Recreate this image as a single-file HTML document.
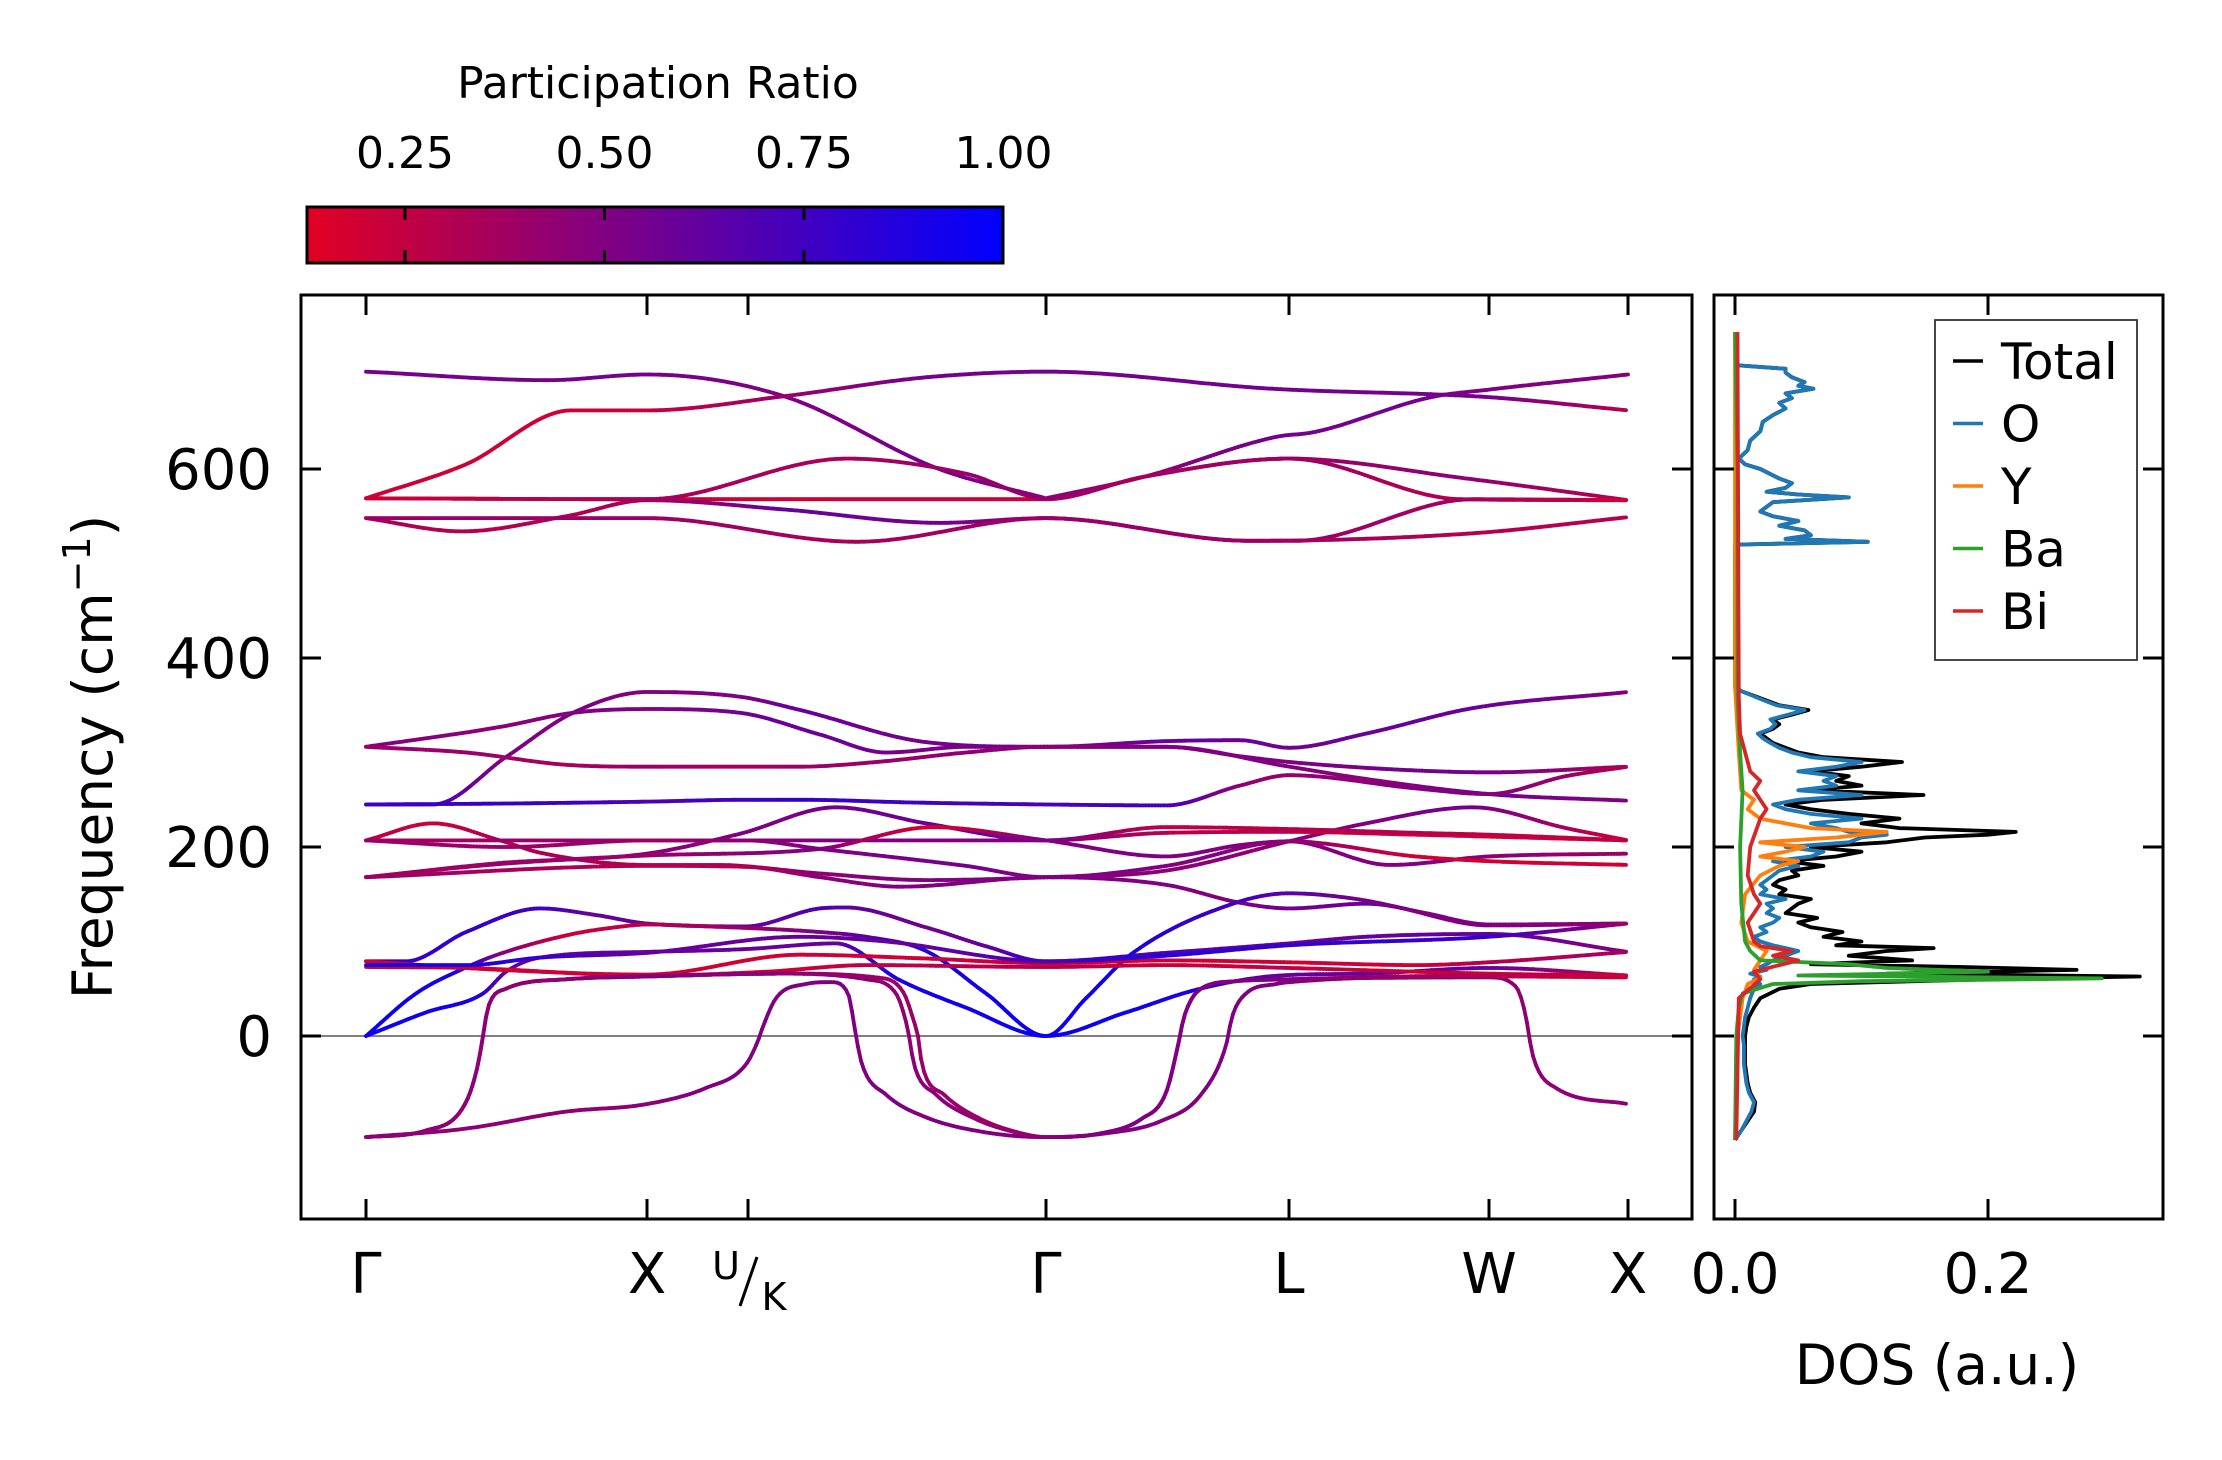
<!DOCTYPE html>
<html><head><meta charset="utf-8"><title>Phonon bands and DOS</title>
<style>
html,body{margin:0;padding:0;background:#fff;}
svg text{font-family:"DejaVu Sans","Liberation Sans",sans-serif;fill:#000;}
</style></head>
<body>
<svg id="fig" xmlns="http://www.w3.org/2000/svg" width="2222" height="1455" viewBox="0 0 2222 1455">
<rect x="0" y="0" width="2222" height="1455" fill="#fff"/>
<defs>
<linearGradient id="cbgrad" x1="0" y1="0" x2="1" y2="0">
<stop offset="0" stop-color="rgb(225,0,35)"/>
<stop offset="1" stop-color="rgb(0,0,255)"/>
</linearGradient>
<clipPath id="mainclip"><rect x="301" y="295" width="1391" height="924"/></clipPath>
<clipPath id="dosclip"><rect x="1714" y="295" width="449" height="924"/></clipPath>
</defs>
<g id="colorbar">
<rect x="307" y="207" width="696" height="56" fill="url(#cbgrad)" stroke="#000" stroke-width="3"/>
</g>
<text x="658" y="98" font-size="44" text-anchor="middle">Participation Ratio</text>
<g id="main"></g>
<g id="dos"></g>
<text transform="translate(112,757) rotate(-90)" font-size="55" text-anchor="middle">Frequency (cm<tspan font-size="38" dy="-22">−1</tspan><tspan dy="22">)</tspan></text>
<text x="1937" y="1384" font-size="55" text-anchor="middle">DOS (a.u.)</text>
</svg>
<script>
// ---------- data ----------
const kTickPos = [0, 281, 382, 680, 923, 1123, 1262];
const kTickLabels = ["Γ", "X", "U/K", "Γ", "L", "W", "X"];
const freqTicks = [0, 200, 400, 600];
const cbTicks = [0.25, 0.5, 0.75, 1.0];
const cbTickLabels = ["0.25", "0.50", "0.75", "1.00"];
const dosTicks = [0.0, 0.2];
const dosTickLabels = ["0.0", "0.2"];

// bands: [k, frequency, participation ratio]
const bandTop1 = [[0,703,.55],[182,694,.55],[281,700,.55],[418,677,.5],[573,600,.55],[680,569,.45]];
const bandTop2 = [[0,569,.2],[100,605,.2],[205,662,.2],[281,662,.22],[418,677,.4],[560,697,.55],[680,703,.55],[905,685,.55],[1123,676,.55],[1262,662,.3]];
const bandTop3 = [[680,569,.45],[779,592,.45],[910,634,.55],[948,639,.55],[1065,676,.55],[1123,684,.5],[1262,700,.5]];
const bandTop4 = [[0,569,.15],[281,568,.2],[680,568,.2],[779,592,.35],[923,611,.4],[1100,590,.45],[1262,567,.3]];
const bandTop5 = [[0,569,.2],[281,568,.35],[481,611,.35],[600,595,.4],[680,569,.45],[779,592,.35],[923,611,.4],[1095,568,.3],[1262,567,.2]];
const bandTop6 = [[0,548,.35],[96,534,.3],[200,550,.3],[281,567,.35],[420,557,.6],[574,543,.55],[680,548,.45],[884,524,.4],[930,524,.4],[1107,568,.35],[1262,567,.2]];
const bandTop7 = [[0,548,.4],[281,548,.4],[491,523,.35],[680,548,.4],[884,524,.4],[1107,532,.3],[1262,549,.3]];
const bandMid1 = [[0,306,.5],[134,327,.45],[207,342,.5],[281,346,.5],[374,342,.55],[454,319,.6],[520,300,.55],[600,306,.5],[680,306,.5],[800,312,.6],[874,313,.6],[923,305,.55],[1000,320,.6],[1107,347,.6],[1262,364,.5]];
const bandMid2 = [[0,245,.65],[67,245,.7],[141,296,.5],[207,342,.5],[281,364,.5],[374,359,.5],[434,345,.6],[560,311,.55],[680,306,.55],[800,306,.55],[874,296,.55],[923,290,.5],[1030,282,.55],[1123,279,.55],[1262,285,.35]];
const bandMid3 = [[0,306,.4],[100,300,.4],[200,287,.35],[281,285,.4],[380,285,.35],[434,285,.4],[511,290,.4],[600,300,.45],[680,306,.45],[800,306,.5],[923,285,.5],[1000,272,.45],[1123,256,.55],[1262,249,.5]];
const bandMid4 = [[0,245,.75],[140,246,.8],[281,248,.7],[380,250,.75],[434,250,.8],[550,247,.75],[680,245,.7],[800,244,.75],[874,265,.45],[923,276,.4],[1050,262,.5],[1123,256,.5],[1200,275,.4],[1262,285,.3]];
const bandMid5 = [[0,207,.3],[67,225,.2],[134,207,.3],[174,194,.35],[281,181,.3],[350,181,.35],[454,172,.45],[560,165,.5],[680,168,.5],[800,175,.45],[923,206,.45],[1000,225,.5],[1107,242,.55],[1200,220,.35],[1262,207,.2]];
const bandMid6 = [[0,207,.35],[281,207,.45],[454,207,.5],[680,207,.5],[800,215,.3],[923,216,.25],[1050,213,.2],[1262,207,.2]];
const bandMid7 = [[0,168,.4],[134,183,.45],[281,193,.45],[374,214,.5],[470,242,.55],[560,225,.6],[680,207,.55],[800,221,.25],[923,219,.3],[1050,215,.3],[1123,213,.25],[1262,207,.25]];
const bandMid8 = [[0,168,.35],[134,182,.4],[281,191,.4],[454,198,.5],[567,221,.15],[680,207,.5],[800,190,.5],[874,202,.5],[923,206,.5],[1024,181,.5],[1123,190,.45],[1262,193,.4]];
const bandMid9 = [[0,207,.4],[140,200,.4],[281,207,.4],[380,207,.45],[454,198,.5],[600,180,.55],[680,168,.5],[800,180,.5],[923,206,.45],[1050,190,.2],[1123,185,.2],[1262,181,.2]];
const bandMid10 = [[0,168,.4],[281,180,.3],[380,179,.3],[454,168,.45],[534,158,.5],[680,168,.5],[800,160,.5],[874,141,.5],[923,135,.55],[1000,140,.6],[1123,117,.5],[1262,119,.45]];
const bandLow1 = [[0,79,.7],[40,79,.8],[100,110,.8],[174,135,.75],[230,128,.6],[281,119,.6],[380,116,.6],[454,135,.7],[480,136,.65],[560,115,.55],[620,95,.6],[680,79,.8],[800,88,.7],[923,98,.6],[1000,105,.6],[1123,108,.6],[1262,89,.5]];
const bandLow2 = [[0,0,.95],[50,45,.95],[101,73,.9],[134,87,.5],[207,108,.2],[257,116,.25],[281,118,.3],[341,116,.35],[454,110,.5],[500,105,.65],[560,90,.85],[620,45,.95],[680,0,.95],[720,40,.95],[767,88,.9],[867,140,.75],[923,151,.65],[990,145,.55],[1060,130,.5],[1123,118,.5],[1262,119,.45]];
const bandLow3 = [[0,0,.95],[60,25,.95],[117,45,.9],[140,68,.6],[174,83,.6],[281,89,.6],[380,92,.6],[470,98,.6],[534,59,.9],[600,30,.95],[680,0,.95],[760,25,.95],[834,50,.9],[914,64,.6],[1000,66,.6],[1123,72,.6],[1262,64,.3]];
const bandLow4 = [[0,73,.2],[100,72,.2],[281,64,.25],[400,68,.2],[500,75,.25],[680,73,.3],[800,75,.2],[923,72,.25],[1123,66,.2],[1262,64,.2]];
const bandLow5 = [[0,79,.2],[134,70,.2],[281,65,.2],[434,86,.2],[560,82,.2],[680,77,.25],[800,80,.2],[923,78,.2],[1050,75,.2],[1123,78,.3],[1262,89,.35]];
const bandLow6 = [[0,75,.9],[101,75,.9],[174,83,.8],[281,88,.6],[434,105,.6],[520,100,.6],[680,79,.7],[800,85,.85],[923,96,.8],[1123,105,.8],[1262,119,.4]];
const bandImag1 = [[0,-107,.45],[100,-98,.45],[200,-80,.45],[281,-72,.45],[340,-55,.5],[380,-30,.5],[392,-5,.5],[397,10,.5],[410,40,.5],[440,55,.5],[465,57,.5],[482,45,.5],[487,20,.5],[490,0,.5],[496,-30,.5],[520,-62,.5],[560,-86,.5],[620,-102,.5],[680,-107,.5],[735,-103,.5],[775,-88,.5],[800,-60,.5],[812,-10,.5],[818,20,.5],[835,50,.5],[870,58,.5],[923,60,.5],[1123,62,.5],[1150,52,.45],[1160,20,.45],[1163,0,.45],[1168,-25,.45],[1190,-55,.45],[1262,-72,.45]];
const bandImag2 = [[0,-107,.45],[60,-100,.45],[100,-70,.45],[112,-30,.45],[117,0,.45],[122,30,.45],[140,50,.45],[200,60,.45],[281,63,.5],[420,66,.5],[500,60,.45],[530,45,.45],[540,15,.45],[543,0,.45],[548,-30,.45],[570,-62,.45],[610,-88,.45],[650,-102,.45],[680,-107,.45],[740,-103,.5],[795,-90,.5],[835,-62,.5],[860,-10,.5],[866,20,.5],[880,45,.5],[910,55,.5],[923,57,.5],[1123,63,.3],[1262,62,.2]];
const bandImag3 = [[0,-107,.45],[60,-100,.45],[100,-70,.45],[112,-30,.45],[117,0,.45],[122,30,.45],[140,50,.45],[200,60,.45],[281,63,.5],[420,66,.45],[510,62,.4],[538,45,.4],[548,15,.4],[552,0,.4],[556,-30,.4],[578,-62,.4],[615,-88,.4],[652,-102,.4],[680,-107,.45],[735,-103,.5],[775,-88,.5],[800,-60,.5],[812,-10,.5],[818,20,.5],[835,50,.5],[870,58,.5],[923,60,.5],[1123,64,.3],[1262,64,.2]];
const bandList = [bandTop1,bandTop2,bandTop3,bandTop4,bandTop5,bandTop6,bandTop7,bandMid1,bandMid2,bandMid3,bandMid4,bandMid5,bandMid6,bandMid7,bandMid8,bandMid9,bandMid10,bandLow1,bandLow2,bandLow3,bandLow4,bandLow5,bandLow6,bandImag1,bandImag2,bandImag3];

// DOS data
const dosFreq = [-110,-100,-90,-80,-70,-60,-50,-40,-30,-20,-10,0,10,20,30,40,50,55,60,63,66,70,73,76,80,85,90,93,96,100,105,110,115,120,125,130,135,140,145,150,155,160,165,170,175,180,185,190,195,200,205,210,213,216,220,225,230,235,240,245,250,255,260,265,270,275,280,285,290,295,300,305,310,315,320,325,330,335,340,345,350,355,360,365,370,380,450,515,520,523,526,530,535,540,545,550,555,560,565,570,573,576,580,585,590,600,605,611,620,630,640,650,657,664,670,675,680,685,688,692,697,702,706,710];
const dosTotal = [0,.005,.01,.015,.016,.012,.01,.009,.008,.008,.008,.008,.009,.011,.015,.02,.035,.06,.2,.32,.12,.27,.18,.06,.14,.09,.12,.157,.08,.1,.07,.085,.06,.05,.065,.04,.045,.05,.06,.035,.04,.03,.035,.05,.045,.07,.04,.08,.1,.06,.12,.15,.2,.222,.13,.1,.13,.09,.06,.04,.07,.149,.06,.1,.08,.09,.06,.1,.132,.07,.05,.04,.03,.025,.02,.03,.035,.03,.045,.058,.035,.025,.015,.005,0,0,0,0,0,.105,.04,.06,.055,.035,.05,.03,.02,.025,.03,.09,.05,.025,.04,.045,.035,.02,.008,.003,.01,.012,.02,.022,.03,.04,.035,.045,.04,.062,.05,.055,.045,.04,.04,0];
const dosO = [0,.005,.009,.013,.015,.011,.009,.008,.007,.007,.007,.006,.007,.008,.01,.012,.015,.02,.015,.02,.012,.025,.02,.025,.03,.04,.05,.04,.03,.02,.015,.025,.02,.03,.035,.025,.03,.025,.04,.02,.025,.02,.025,.03,.035,.05,.03,.06,.07,.04,.09,.1,.12,.09,.08,.06,.1,.06,.04,.03,.05,.1,.05,.08,.07,.08,.05,.08,.1,.06,.045,.035,.028,.022,.018,.028,.032,.028,.042,.055,.033,.023,.014,.005,0,0,0,0,0,.105,.04,.06,.055,.035,.05,.03,.02,.025,.03,.09,.05,.025,.04,.045,.035,.02,.008,.003,.01,.012,.02,.022,.03,.04,.035,.045,.04,.062,.05,.055,.045,.04,.04,0];
const yFreq = [-110,0,20,40,55,62,70,80,90,100,120,150,170,180,185,190,195,200,205,210,213,216,220,225,230,240,250,260,300,370,745];
const yDos = [0,.002,.004,.006,.01,.02,.015,.02,.025,.01,.005,.008,.02,.035,.05,.02,.04,.055,.02,.08,.1,.12,.06,.04,.02,.01,.015,.005,.003,0,0];
const baFreq = [-110,0,30,45,55,58,61,64,68,72,76,80,90,100,140,200,260,300,360,600,745];
const baDos = [0,.001,.003,.006,.03,.1,.29,.05,.2,.12,.09,.02,.012,.008,.005,.004,.006,.004,.002,.002,0];
const biFreq = [-110,40,60,68,75,80,85,90,95,100,120,140,150,170,200,230,240,250,260,270,280,290,320,360,745];
const biDos = [.001,.003,.02,.015,.035,.05,.03,.045,.02,.015,.01,.02,.015,.01,.012,.02,.025,.02,.015,.02,.012,.01,.004,.003,.002];
const legendLabels = ["Total","O","Y","Ba","Bi"];
const legendColors = ["#000000","#1f77b4","#ff7f0e","#2ca02c","#d62728"];

// ---------- scales ----------
const NS = "http://www.w3.org/2000/svg";
const MAIN = {l:301, r:1692, t:295, b:1219};
const DOSB = {l:1714, r:2163, t:295, b:1219};
function xK(k){ return 366 + (k/1262)*(1628-366); }
function yF(f){ return 1036 - f*0.945; }
function xD(d){ return 1735 + d*1265; }
function xCB(v){ return 405 + (v-0.25)/0.25*199.5; }
function prColor(p){
  let t = (p-0.127)/(1-0.127); t = Math.max(0, Math.min(1, t));
  const r = Math.round(225*(1-t)), b = Math.round(35+220*t);
  return "rgb("+r+",0,"+b+")";
}
function el(tag, attrs, parent){
  const e = document.createElementNS(NS, tag);
  for (const k in attrs) e.setAttribute(k, attrs[k]);
  parent.appendChild(e); return e;
}
function mono(xs, ys){
  const n = xs.length, d = [], m = [];
  for (let i=0;i<n-1;i++) d.push((ys[i+1]-ys[i])/(xs[i+1]-xs[i]));
  m[0]=d[0]; m[n-1]=d[n-2];
  for (let i=1;i<n-1;i++){ m[i] = (d[i-1]*d[i] <= 0) ? 0 : (d[i-1]+d[i])/2; }
  for (let i=0;i<n-1;i++){
    if (d[i]===0){ m[i]=0; m[i+1]=0; continue; }
    const a=m[i]/d[i], b=m[i+1]/d[i], s=a*a+b*b;
    if (s>9){ const t=3/Math.sqrt(s); m[i]=t*a*d[i]; m[i+1]=t*b*d[i]; }
  }
  return function(x){
    let i=0; while(i<n-2 && x>xs[i+1]) i++;
    const h=xs[i+1]-xs[i], t=(x-xs[i])/h, t2=t*t, t3=t2*t;
    return (2*t3-3*t2+1)*ys[i]+(t3-2*t2+t)*h*m[i]+(-2*t3+3*t2)*ys[i+1]+(t3-t2)*h*m[i+1];
  };
}

// ---------- colorbar ticks ----------
const cb = document.getElementById("colorbar");
cbTicks.forEach((v,i)=>{
  const x = xCB(v);
  if (v < 0.99){
    const t1 = el("line",{x1:x,y1:207,x2:x,y2:220,stroke:"#000","stroke-width":3},cb);
    
    
    const t2 = el("line",{x1:x,y1:250,x2:x,y2:263,stroke:"#000","stroke-width":3},cb);
    
    
  }
  const lb = el("text",{x:x,y:168,"font-size":44,"text-anchor":"middle"},cb);
  lb.textContent = cbTickLabels[i];
  
  
});

// ---------- main band plot ----------
const main = document.getElementById("main");
const zl = el("line",{x1:MAIN.l,y1:yF(0),x2:MAIN.r,y2:yF(0),stroke:"#808080","stroke-width":2},main);


const bandG = el("g",{"clip-path":"url(#mainclip)"},main);


bandList.forEach((band, bi)=>{
  const ks = band.map(p=>p[0]), fs = band.map(p=>p[1]), ps = band.map(p=>p[2]);
  const f = mono(ks, fs);
  const g = el("g",{},bandG);
  
  
  const k0 = ks[0], k1 = ks[ks.length-1], step = 3;
  let prevX = xK(k0), prevY = yF(f(k0));
  for (let k=k0+step; k<=k1+0.001; k+=step){
    const kk = Math.min(k, k1);
    let j=0; while(j<ks.length-2 && kk>ks[j+1]) j++;
    const tt = (kk-ks[j])/(ks[j+1]-ks[j]);
    const p = ps[j]+(ps[j+1]-ps[j])*tt;
    const x = xK(kk), y = yF(f(kk));
    const s = el("line",{x1:prevX.toFixed(1),y1:prevY.toFixed(1),x2:x.toFixed(1),y2:y.toFixed(1),stroke:prColor(p),"stroke-width":3.8,"stroke-linecap":"round"},g);
    
    
    prevX=x; prevY=y;
  }
});
// frame
const mf = el("rect",{x:MAIN.l,y:MAIN.t,width:MAIN.r-MAIN.l,height:MAIN.b-MAIN.t,fill:"none",stroke:"#000","stroke-width":3},main);


kTickPos.forEach((k,i)=>{
  const x = xK(k);
  const a = el("line",{x1:x,y1:MAIN.t,x2:x,y2:MAIN.t+20,stroke:"#000","stroke-width":3},main);
  
  
  const b = el("line",{x1:x,y1:MAIN.b,x2:x,y2:MAIN.b-20,stroke:"#000","stroke-width":3},main);
  
  
  if (kTickLabels[i] === "U/K"){
    const t = el("text",{x:x-22,y:1279,"font-size":38,"text-anchor":"middle"},main);
    t.textContent = "U";
    
    
    const sl = el("line",{x1:x+9,y1:1257,x2:x-8,y2:1306,stroke:"#000","stroke-width":3},main);
    
    
    const t2 = el("text",{x:x+26,y:1310,"font-size":38,"text-anchor":"middle"},main);
    t2.textContent = "K";
    
    
  } else {
    const t = el("text",{x:x,y:1293,"font-size":56,"text-anchor":"middle"},main);
    t.textContent = kTickLabels[i];
    
    
  }
});
freqTicks.forEach(v=>{
  const y = yF(v);
  const a = el("line",{x1:MAIN.l,y1:y,x2:MAIN.l+20,y2:y,stroke:"#000","stroke-width":3},main);
  
  
  const b = el("line",{x1:MAIN.r,y1:y,x2:MAIN.r-20,y2:y,stroke:"#000","stroke-width":3},main);
  
  
  const t = el("text",{x:272,y:y+20,"font-size":56,"text-anchor":"end"},main);
  t.textContent = String(v);
  
  
});

// ---------- DOS plot ----------
const dos = document.getElementById("dos");
const dosG = el("g",{"clip-path":"url(#dosclip)"},dos);


function dosLine(fr, vals, color, name){
  const pts = fr.map((f,i)=>xD(vals[i]).toFixed(1)+","+yF(f).toFixed(1)).join(" ");
  const pl = el("polyline",{points:pts,fill:"none",stroke:color,"stroke-width":3.8,"stroke-linejoin":"round"},dosG);
  
  
}
dosLine(dosFreq, dosTotal, legendColors[0], 'dos-total-line');
dosLine(dosFreq, dosO, legendColors[1], 'dos-o-line');
dosLine(yFreq, yDos, legendColors[2], 'dos-y-line');
dosLine(baFreq, baDos, legendColors[3], 'dos-ba-line');
dosLine(biFreq, biDos, legendColors[4], 'dos-bi-line');
const df = el("rect",{x:DOSB.l,y:DOSB.t,width:DOSB.r-DOSB.l,height:DOSB.b-DOSB.t,fill:"none",stroke:"#000","stroke-width":3},dos);


dosTicks.forEach((d,i)=>{
  const x = xD(d);
  const a = el("line",{x1:x,y1:DOSB.t,x2:x,y2:DOSB.t+20,stroke:"#000","stroke-width":3},dos);
  
  
  const b = el("line",{x1:x,y1:DOSB.b,x2:x,y2:DOSB.b-20,stroke:"#000","stroke-width":3},dos);
  
  
  const t = el("text",{x:x,y:1293,"font-size":56,"text-anchor":"middle"},dos);
  t.textContent = dosTickLabels[i];
  
  
});
freqTicks.forEach(v=>{
  const y = yF(v);
  const a = el("line",{x1:DOSB.l,y1:y,x2:DOSB.l+20,y2:y,stroke:"#000","stroke-width":3},dos);
  
  
  const b = el("line",{x1:DOSB.r,y1:y,x2:DOSB.r-20,y2:y,stroke:"#000","stroke-width":3},dos);
  
  
});
// legend
const lg = el("g",{},dos);


const lbx = el("rect",{x:1935,y:320,width:202,height:340,fill:"#fff",stroke:"#333","stroke-width":1.8},lg);


legendLabels.forEach((name,i)=>{
  const y = 361 + i*62.5;
  const ln = el("line",{x1:1953,y1:y,x2:1983,y2:y,stroke:legendColors[i],"stroke-width":3.5},lg);
  
  
  const t = el("text",{x:2001,y:y+18,"font-size":50},lg);
  t.textContent = name;
  
  
});
</script>
</body></html>
